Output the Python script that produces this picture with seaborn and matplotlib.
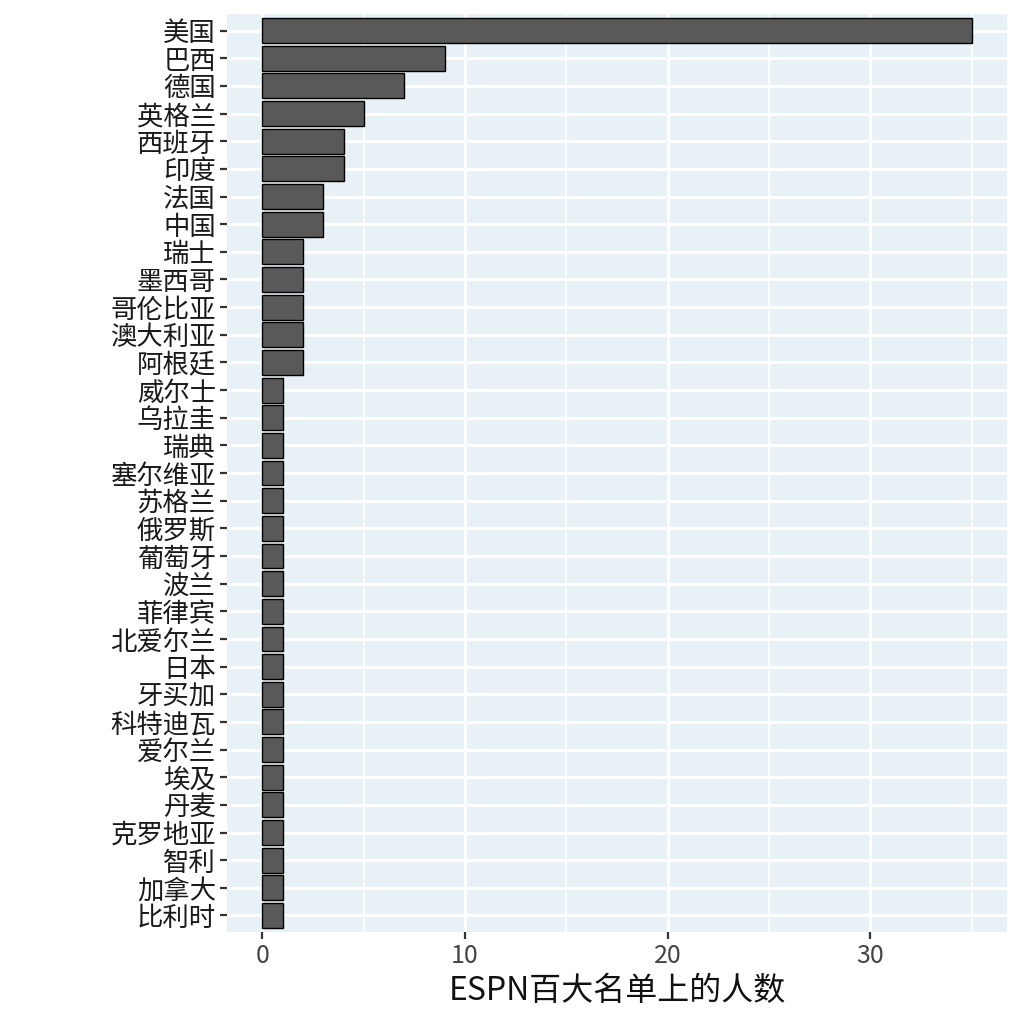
import matplotlib
matplotlib.use("Agg")
import matplotlib.pyplot as plt
import seaborn as sns
import pandas as pd
from matplotlib.ticker import MultipleLocator

countries = ["美国", "巴西", "德国", "英格兰", "西班牙", "印度", "法国", "中国",
             "瑞士", "墨西哥", "哥伦比亚", "澳大利亚", "阿根廷", "威尔士", "乌拉圭",
             "瑞典", "塞尔维亚", "苏格兰", "俄罗斯", "葡萄牙", "波兰", "菲律宾",
             "北爱尔兰", "日本", "牙买加", "科特迪瓦", "爱尔兰", "埃及", "丹麦",
             "克罗地亚", "智利", "加拿大", "比利时"]
counts = [35, 9, 7, 5, 4, 4, 3, 3,
          2, 2, 2, 2, 2, 1, 1,
          1, 1, 1, 1, 1, 1, 1,
          1, 1, 1, 1, 1, 1, 1,
          1, 1, 1, 1]

df = pd.DataFrame({"country": countries, "n": counts})

sns.set_theme(style="white")
plt.rcParams["font.family"] = ["Noto Sans CJK SC", "DejaVu Sans"]

fig = plt.figure(figsize=(10.24, 10.24), dpi=100)
ax = fig.add_axes([0.2217, 0.0898, 0.7617, 0.8965])
ax.set_facecolor("#E8F1F5")

sns.barplot(data=df, x="n", y="country", orient="h", color="#595959",
            edgecolor="black", linewidth=1, width=0.9, saturation=1, ax=ax)

ax.set_xlim(-1.75, 36.75)
ax.set_ylim(len(countries) - 0.4, -0.6)
ax.xaxis.set_major_locator(MultipleLocator(10))
ax.xaxis.set_minor_locator(MultipleLocator(5))
ax.grid(which="major", axis="both", color="white", linewidth=2.2)
ax.grid(which="minor", axis="x", color="white", linewidth=1.1)
ax.set_axisbelow(True)
for s in ax.spines.values():
    s.set_visible(False)

ax.tick_params(axis="both", which="major", length=5, width=1.6, color="#333333",
               labelsize=19, labelcolor="#1a1a1a", pad=3, bottom=True, left=True)
ax.tick_params(axis="x", which="minor", length=0, bottom=False)
ax.set_xticks([0, 10, 20, 30])
ax.set_xticklabels(["0", "10", "20", "30"], color="#444444", fontsize=18)
ax.set_ylabel("")
ax.set_xlabel("ESPN百大名单上的人数", fontsize=23, color="#111111", labelpad=4)

fig.savefig("out.png", dpi=100)
